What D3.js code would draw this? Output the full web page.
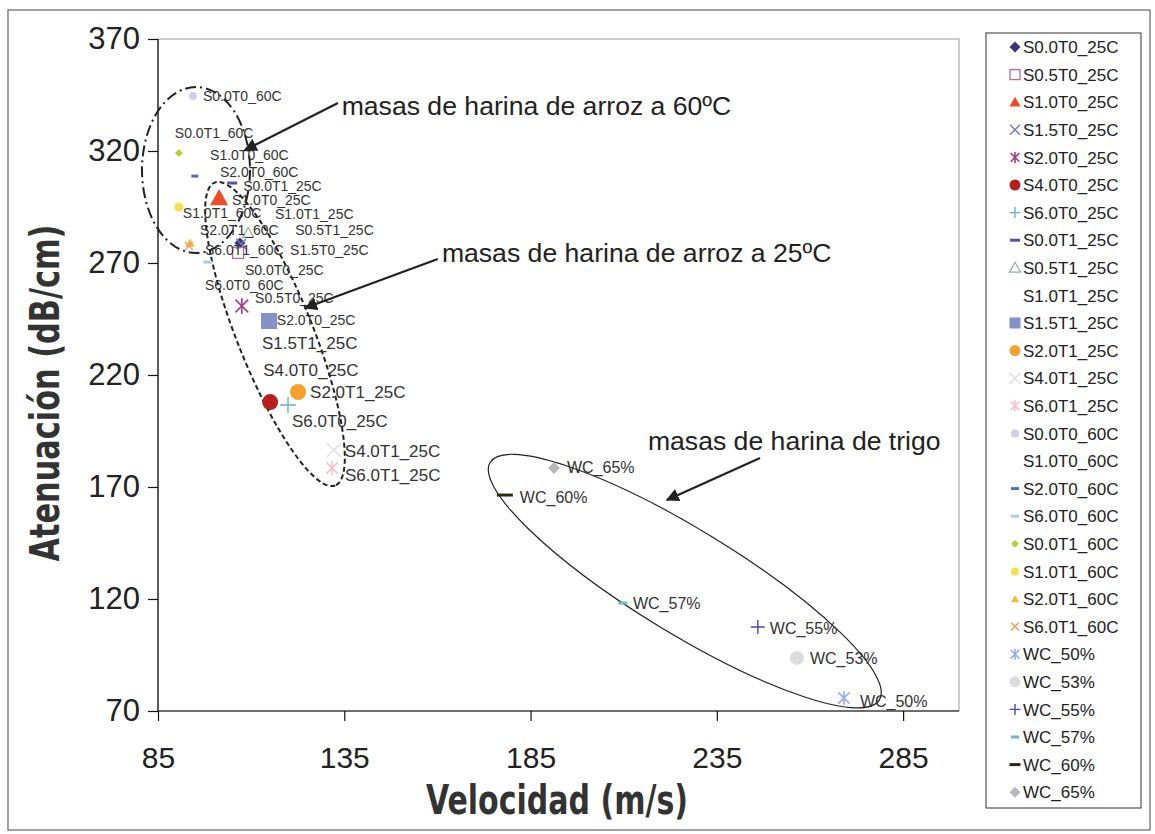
<!DOCTYPE html>
<html lang="es">
<head>
<meta charset="utf-8">
<script src="https://cdnjs.cloudflare.com/ajax/libs/d3/7.8.5/d3.min.js"></script>
<title>Atenuación vs Velocidad</title>
<style>
  body { margin: 0; background: #fff; }
  text { font-family: "Liberation Sans", Arial, sans-serif; fill: #222; }
  .axis path, .axis line { stroke: #111; stroke-width: 1.2; }
  .axis text { fill: #222; }
  .titulo { font-family: "Liberation Sans Narrow", "DejaVu Sans Condensed", "Arial Narrow", sans-serif; font-weight: bold; fill: #333; }
</style>
</head>
<body>
<div id="chart"></div>
<script>
// series (Excel data series), one point each
var series = ["S0.0T0_25C", "S0.5T0_25C", "S1.0T0_25C", "S1.5T0_25C", "S2.0T0_25C", "S4.0T0_25C", "S6.0T0_25C",
  "S0.0T1_25C", "S0.5T1_25C", "S1.0T1_25C", "S1.5T1_25C", "S2.0T1_25C", "S4.0T1_25C", "S6.0T1_25C",
  "S0.0T0_60C", "S1.0T0_60C", "S2.0T0_60C", "S6.0T0_60C", "S0.0T1_60C", "S1.0T1_60C", "S2.0T1_60C", "S6.0T1_60C",
  "WC_50%", "WC_53%", "WC_55%", "WC_57%", "WC_60%", "WC_65%"];
var velocidad = [107.0, 106.5, 101.4, 107.3, 107.5, 115.1, 119.9,
  104.9, 109.2, 112.9, 114.8, 122.6, 132.2, 131.7,
  94.4, 96.3, 94.9, 98.4, 90.6, 90.6, 93.6, 93.3,
  269.1, 256.5, 246.0, 209.8, 178.1, 191.3];
var atenuacion = [278.9, 274.5, 299.0, 278.5, 250.8, 207.9, 206.6,
  305.7, 283.4, 291.9, 244.1, 212.4, 186.5, 178.5,
  344.6, 316.9, 308.8, 270.4, 319.1, 295.0, 278.9, 277.6,
  75.8, 93.7, 107.5, 118.2, 166.4, 178.5];

var xTicks = [85, 135, 185, 235, 285];
var yTicks = [70, 120, 170, 220, 270, 320, 370];

// annotation texts, arrow start/end and ellipses (in data units)
var grupos = ["masas de harina de arroz a 60ºC", "masas de harina de arroz a 25ºC", "masas de harina de trigo"];
var grupoTexto = [[134.3, 340.5], [161.2, 274.5], [216.5, 191.0]];
var flechaIni = [[133.3, 341.4], [160.1, 271.8], [246.6, 183.0]];
var flechaFin = [[108.3, 320.4], [124.5, 249.9], [221.6, 164.2]];
var elipseCentro = [[95.2, 311.5], [116.4, 238.3], [226.4, 128.0]];

// marker styles: shape, colour, size(px)
var estilos = [
  ["diamond", "#3b3278", 11], ["squareO", "#c4669e", 12], ["triangle", "#f04b25", 18], ["x", "#6e78c8", 10],
  ["asterisk", "#a83a8a", 16], ["circle", "#b42020", 16], ["plus", "#6aaed6", 16],
  ["dash", "#4a5aa0", 10], ["triangleO", "#90b0a0", 11], ["none", "#fff", 0], ["square", "#8592c8", 16],
  ["circle", "#f7a030", 16], ["x", "#dcdcee", 14], ["asterisk", "#f5c0cc", 14],
  ["circle", "#d4cce8", 8], ["none", "#fff", 0], ["dash", "#4a70c0", 7], ["dash", "#a8d0e8", 9],
  ["diamond", "#b8d038", 8], ["circle", "#f5e050", 9], ["triangle", "#f5b830", 9], ["x", "#f0a060", 8],
  ["asterisk", "#98aaf0", 14], ["circle", "#dcdcdc", 14], ["plus", "#4848a8", 14], ["dash", "#78b8b8", 9],
  ["dash", "#2a2a14", 16], ["diamond", "#b8b8b8", 12]
];
// data label offsets dx, dy (px) and font size
var etiquetas = [
  [5, 27, 14], [17, 45, 14], [13, 2, 14], [49, 6, 14], [35, 14, 14], [-7, -32, 17], [4, 16, 17],
  [11, 3, 14], [47, -3, 14], [13, 0, 14], [-7, 22, 17], [12, 0, 17], [11, 1, 17], [13, 7, 17],
  [10, 0, 14], [10, -3, 14], [25, -4, 14], [-3, 23, 14], [-4, -20, 14], [4, 6, 14], [10, -13, 14], [16, 4, 14],
  [16, 3, 16], [13, 0, 16], [12, 1, 16], [10, 0, 16], [15, 2, 16], [13, -1, 16]
];

var width = 1155, height = 834;
var plot = {left: 158, right: 959, top: 39, bottom: 711};

var svg = d3.select("#chart").append("svg")
  .attr("width", width)
  .attr("height", height);

var x = d3.scaleLinear().domain([85, 300]).range([plot.left, plot.right]);
var y = d3.scaleLinear().domain([70, 370]).range([plot.bottom, plot.top]);

// outer chart border
svg.append("rect")
  .attr("x", 8).attr("y", 10).attr("width", 1142).attr("height", 820)
  .attr("fill", "none").attr("stroke", "#444").attr("stroke-width", 1);

// plot area border
svg.append("rect")
  .attr("x", plot.left).attr("y", plot.top)
  .attr("width", plot.right - plot.left).attr("height", plot.bottom - plot.top)
  .attr("fill", "none").attr("stroke", "#999").attr("stroke-width", 1);

// axes
var xAxis = svg.append("g").attr("class", "axis")
  .attr("transform", "translate(0," + plot.bottom + ")")
  .call(d3.axisBottom(x).tickValues(xTicks).tickSize(10).tickSizeOuter(0).tickPadding(26));
xAxis.select(".domain").attr("d", "M" + plot.left + ",0H" + plot.right);
xAxis.selectAll("text").style("font-size", "30px");

var yAxis = svg.append("g").attr("class", "axis")
  .attr("transform", "translate(" + plot.left + ",0)")
  .call(d3.axisLeft(y).tickValues(yTicks).tickSize(10).tickSizeOuter(0).tickPadding(8));
yAxis.select(".domain").attr("d", "M0," + plot.top + "V" + plot.bottom);
yAxis.selectAll("text").style("font-size", "31px");

// axis titles
svg.append("text").attr("class", "titulo")
  .attr("x", 557).attr("y", 814)
  .attr("text-anchor", "middle")
  .style("font-size", "40px")
  .attr("textLength", 262).attr("lengthAdjust", "spacingAndGlyphs")
  .text("Velocidad (m/s)");

svg.append("text").attr("class", "titulo")
  .attr("transform", "translate(59,393) rotate(-90)")
  .attr("text-anchor", "middle")
  .style("font-size", "40px")
  .attr("textLength", 337).attr("lengthAdjust", "spacingAndGlyphs")
  .text("Atenuación (dB/cm)");

// marker shapes
function dibujarMarcador(g, forma, color, s) {
  var h = s / 2;
  if (forma == "diamond") {
    g.append("path").attr("d", "M0," + (-h) + "L" + h + ",0L0," + h + "L" + (-h) + ",0Z").attr("fill", color);
  } else if (forma == "square") {
    g.append("rect").attr("x", -h).attr("y", -h).attr("width", s).attr("height", s).attr("fill", color);
  } else if (forma == "squareO") {
    g.append("rect").attr("x", -h + 0.5).attr("y", -h + 0.5).attr("width", s - 1).attr("height", s - 1)
      .attr("fill", "none").attr("stroke", color).attr("stroke-width", 1.3);
  } else if (forma == "triangle") {
    g.append("path").attr("d", "M0," + (-h) + "L" + h + "," + (h * 0.8) + "L" + (-h) + "," + (h * 0.8) + "Z").attr("fill", color);
  } else if (forma == "triangleO") {
    g.append("path").attr("d", "M0," + (-h) + "L" + h + "," + (h * 0.8) + "L" + (-h) + "," + (h * 0.8) + "Z")
      .attr("fill", "none").attr("stroke", color).attr("stroke-width", 1.2);
  } else if (forma == "circle") {
    g.append("circle").attr("r", h).attr("fill", color);
  } else if (forma == "x") {
    g.append("path").attr("d", "M" + (-h) + "," + (-h) + "L" + h + "," + h + "M" + h + "," + (-h) + "L" + (-h) + "," + h)
      .attr("stroke", color).attr("stroke-width", 1.4).attr("fill", "none");
  } else if (forma == "asterisk") {
    var k = h * 0.8;
    g.append("path").attr("d", "M" + (-k) + "," + (-k) + "L" + k + "," + k + "M" + k + "," + (-k) + "L" + (-k) + "," + k
      + "M0," + (-h) + "L0," + h)
      .attr("stroke", color).attr("stroke-width", 1.6).attr("fill", "none");
  } else if (forma == "plus") {
    g.append("path").attr("d", "M" + (-h) + ",0L" + h + ",0M0," + (-h) + "L0," + h)
      .attr("stroke", color).attr("stroke-width", 1.4).attr("fill", "none");
  } else if (forma == "dash") {
    g.append("path").attr("d", "M" + (-h) + ",0L" + h + ",0")
      .attr("stroke", color).attr("stroke-width", 3).attr("fill", "none");
  }
}

// arrow head
svg.append("defs").append("marker")
  .attr("id", "punta")
  .attr("viewBox", "0 0 10 10")
  .attr("refX", 9).attr("refY", 5)
  .attr("markerWidth", 6).attr("markerHeight", 6)
  .attr("orient", "auto")
  .append("path").attr("d", "M0,0L10,5L0,10Z").attr("fill", "#222");

// group ellipses
var elipses = [
  {rx: 54, ry: 83, rot: 0, dash: "11,4,2,4", w: 2},
  {rx: 163, ry: 38, rot: 68.3, dash: "5,3", w: 2},
  {rx: 228, ry: 52, rot: 31.4, dash: null, w: 1.2}
];
elipses.forEach(function(e, i) {
  var c = elipseCentro[i];
  svg.append("ellipse")
    .attr("transform", "translate(" + x(c[0]) + "," + y(c[1]) + ") rotate(" + e.rot + ")")
    .attr("rx", e.rx).attr("ry", e.ry)
    .attr("fill", "none").attr("stroke", "#222")
    .attr("stroke-width", e.w)
    .attr("stroke-dasharray", e.dash);
});

// points
var puntos = svg.append("g").selectAll("g")
  .data(series)
  .enter().append("g")
  .attr("transform", function(d, i) { return "translate(" + x(velocidad[i]) + "," + y(atenuacion[i]) + ")"; });
puntos.each(function(d, i) {
  dibujarMarcador(d3.select(this), estilos[i][0], estilos[i][1], estilos[i][2]);
});

// data labels
svg.append("g").selectAll("text")
  .data(series)
  .enter().append("text")
  .attr("x", function(d, i) { return x(velocidad[i]) + etiquetas[i][0]; })
  .attr("y", function(d, i) { return y(atenuacion[i]) + etiquetas[i][1]; })
  .attr("dy", "0.36em")
  .style("font-size", function(d, i) { return etiquetas[i][2] + "px"; })
  .style("fill", "#333")
  .text(function(d) { return d; });

// group annotations
grupos.forEach(function(t, i) {
  svg.append("line")
    .attr("x1", x(flechaIni[i][0])).attr("y1", y(flechaIni[i][1]))
    .attr("x2", x(flechaFin[i][0])).attr("y2", y(flechaFin[i][1]))
    .attr("stroke", "#222").attr("stroke-width", 2.2)
    .attr("marker-end", "url(#punta)");
  svg.append("text")
    .attr("x", x(grupoTexto[i][0])).attr("y", y(grupoTexto[i][1]))
    .attr("dy", "0.36em")
    .style("font-size", "26.6px")
    .text(t);
});

// legend
var leg = svg.append("g");
leg.append("rect")
  .attr("x", 986).attr("y", 33).attr("width", 155).attr("height", 775)
  .attr("fill", "#fff").attr("stroke", "#333").attr("stroke-width", 1);
var filas = leg.selectAll("g.fila")
  .data(series)
  .enter().append("g").attr("class", "fila")
  .attr("transform", function(d, i) { return "translate(1015," + (47 + i * 27.6) + ")"; });
filas.each(function(d, i) {
  var s = Math.min(estilos[i][2], 11);
  if (estilos[i][2] < 10) s = 8;
  dibujarMarcador(d3.select(this), estilos[i][0], estilos[i][1], s);
});
filas.append("text")
  .attr("x", 8).attr("dy", "0.36em")
  .style("font-size", "17px")
  .text(function(d) { return d; });
</script>
</body>
</html>
